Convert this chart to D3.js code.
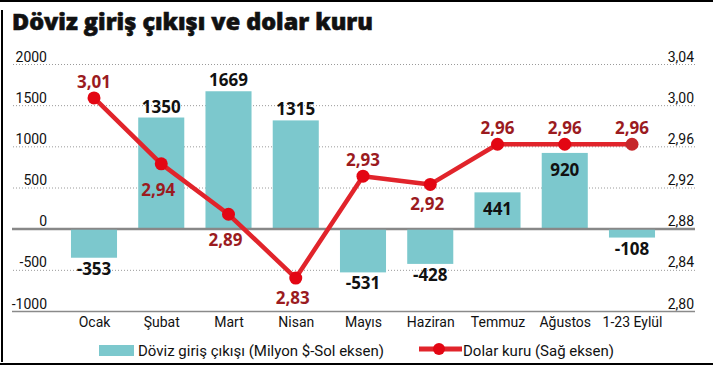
<!DOCTYPE html>
<html><head><meta charset="utf-8">
<script src="https://cdn.jsdelivr.net/npm/d3@7"></script>
<style>
html,body{margin:0;padding:0;background:#fff;}
svg{display:block;}
</style></head>
<body>
<svg id="chart" width="713" height="366"></svg>
<script>
const title = "Döviz giriş çıkışı ve dolar kuru";
const categories = ["Ocak","Şubat","Mart","Nisan","Mayıs","Haziran","Temmuz","Ağustos","1-23 Eylül"];
const flows = [-353, 1350, 1669, 1315, -531, -428, 441, 920, -108];
const usdRate = [3.007, 2.943, 2.894, 2.832, 2.931, 2.923, 2.962, 2.962, 2.962];
const leftTicks = [-1000, -500, 0, 500, 1000, 1500, 2000];
const rightTicks = [2.80, 2.84, 2.88, 2.92, 2.96, 3.00, 3.04];
const legendLabels = ["Döviz giriş çıkışı (Milyon $-Sol eksen)", "Dolar kuru (Sağ eksen)"];

const trLocale = d3.formatLocale({decimal: ",", thousands: ".", grouping: [3], currency: ["", "₺"], minus: "-"});
const fmt2 = trLocale.format(".2f");

const svg = d3.select("#chart");
const W = 713, H = 366;
const gridX0 = 12, gridX1 = 695;
const tealC = "#7cc8cd", redC = "#e1242b", dotC = "#e30613", lastDotC = "#c6282b", darkRed = "#9b1b1f";
const tickFont = "Roboto, 'Open Sans', sans-serif";
const boldFont = "'Open Sans', 'DejaVu Sans', sans-serif";

// frame
svg.append("line").attr("x1",0).attr("x2",W).attr("y1",1).attr("y2",1).attr("stroke","#000").attr("stroke-width",2);
svg.append("line").attr("x1",2).attr("x2",2).attr("y1",10).attr("y2",362).attr("stroke","#000").attr("stroke-width",2);
svg.append("line").attr("x1",0).attr("x2",W).attr("y1",364).attr("y2",364).attr("stroke","#000").attr("stroke-width",2);

// title
svg.append("text").attr("x",12).attr("y",30)
  .attr("font-family","'Open Sans','DejaVu Sans',sans-serif")
  .attr("font-weight",800).attr("font-size",22.5)
  .attr("textLength",361).attr("lengthAdjust","spacingAndGlyphs")
  .attr("fill","#111").attr("stroke","#111").attr("stroke-width",0.6)
  .text(title);

const yL = d3.scaleLinear().domain([-1000, 2000]).range([311, 64]);
const yR = d3.scaleLinear().domain([2.80, 3.04]).range([311, 64]);
const x = d3.scalePoint().domain(categories).range([94, 632]);
const barW = x.step() * 0.685;

// grid
const grid = svg.append("g").attr("transform", `translate(${gridX1},0)`)
  .call(d3.axisLeft(yL).tickValues(leftTicks).tickSize(gridX1 - gridX0).tickFormat(""));
grid.select(".domain").remove();
grid.selectAll(".tick line")
  .attr("stroke", d => d === 0 ? "#888" : (d === -1000 ? "#8a8a8a" : "#9a9a9a"))
  .attr("stroke-width", d => d === 0 ? 2 : (d === -1000 ? 1.5 : 1))
  .attr("stroke-dasharray", d => (d === 0 || d === -1000) ? null : "1,2");

// left tick labels
const la = svg.append("g").attr("transform","translate(47,0)")
  .call(d3.axisLeft(yL).tickValues(leftTicks).tickSize(0).tickPadding(0).tickFormat(d => String(d)));
la.select(".domain").remove();
la.selectAll("text").attr("dy", -3).attr("font-family", tickFont).attr("font-size", 14).attr("fill","#111");

// right tick labels
const ra = svg.append("g").attr("transform","translate(694,0)")
  .call(d3.axisLeft(yR).tickValues(rightTicks).tickSize(0).tickPadding(0).tickFormat(fmt2));
ra.select(".domain").remove();
ra.selectAll("text").attr("dy", -3).attr("font-family", tickFont).attr("font-size", 14).attr("fill","#111");

// category labels
const ca = svg.append("g").attr("transform","translate(0,311)")
  .call(d3.axisBottom(x).tickSize(0).tickPadding(0));
ca.select(".domain").remove();
ca.selectAll("text").attr("dy", 0).attr("y", 16).attr("font-family", tickFont).attr("font-size", 14).attr("fill","#111");

// bars
const rows = categories.map((c, i) => ({c, v: flows[i], r: usdRate[i], i}));
svg.append("g").selectAll("rect").data(rows).join("rect")
  .attr("x", d => x(d.c) - barW/2)
  .attr("width", barW)
  .attr("y", d => Math.min(yL(d.v), yL(0)))
  .attr("height", d => Math.abs(yL(d.v) - yL(0)))
  .attr("fill", tealC);

// re-draw zero line on top of bars
svg.append("line").attr("x1",gridX0).attr("x2",gridX1).attr("y1",yL(0)).attr("y2",yL(0))
  .attr("stroke","#888").attr("stroke-width",2);

// bar value labels
svg.append("g").selectAll("text").data(rows).join("text")
  .attr("x", d => x(d.c))
  .attr("y", d => {
    if (d.v < 0) return yL(d.v) + 17;
    const inside = yR(d.r) < yL(d.v);
    return inside ? yL(d.v) + 23 : yL(d.v) - 5;
  })
  .attr("text-anchor","middle")
  .attr("font-family", boldFont).attr("font-weight",700).attr("font-size",17)
  .attr("fill","#111")
  .text(d => String(d.v));

// dollar line
const line = d3.line().x(d => x(d.c)).y(d => yR(d.r));
svg.append("path").datum(rows).attr("d", line)
  .attr("fill","none").attr("stroke", redC).attr("stroke-width",4.5).attr("stroke-linejoin","round");
svg.append("g").selectAll("circle").data(rows).join("circle")
  .attr("cx", d => x(d.c)).attr("cy", d => yR(d.r)).attr("r", 6.5)
  .attr("fill", d => d.i === rows.length - 1 ? lastDotC : dotC);

// dollar labels
svg.append("g").selectAll("text").data(rows).join("text")
  .attr("x", d => x(d.c) - (d.i > 0 && d.r < rows[d.i-1].r ? 3 : 0))
  .attr("y", d => {
    const below = d.i > 0 && d.r < rows[d.i-1].r;
    const steep = below && d.i < rows.length - 1 && rows[d.i+1].r < d.r;
    return below ? yR(d.r) + (steep ? 32 : 26) : yR(d.r) - 10;
  })
  .attr("text-anchor","middle")
  .attr("font-family", boldFont).attr("font-weight",700).attr("font-size",17)
  .attr("fill", darkRed)
  .text(d => fmt2(d.r));

// legend
const lg = svg.append("g");
lg.append("rect").attr("x",99).attr("y",345).attr("width",35).attr("height",11).attr("fill",tealC);
lg.append("text").attr("x",138).attr("y",356).attr("font-family",tickFont).attr("font-size",15).attr("fill","#111").text(legendLabels[0]);
lg.append("line").attr("x1",419).attr("x2",462).attr("y1",349).attr("y2",349).attr("stroke",redC).attr("stroke-width",5);
lg.append("circle").attr("cx",439).attr("cy",349).attr("r",6).attr("fill",dotC);
lg.append("text").attr("x",463).attr("y",356).attr("font-family",tickFont).attr("font-size",15).attr("fill","#111").text(legendLabels[1]);
</script>
</body></html>
